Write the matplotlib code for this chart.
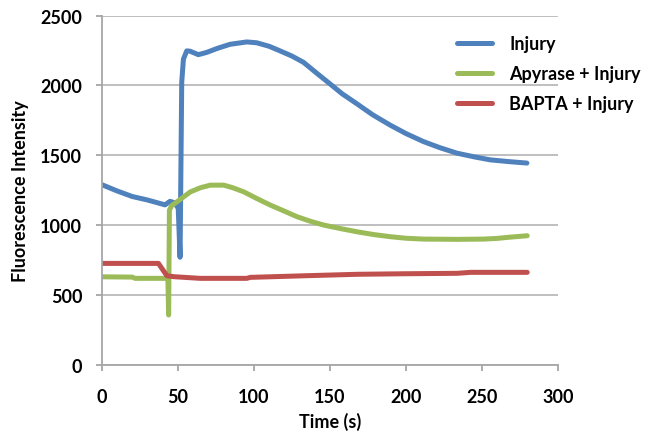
import matplotlib
matplotlib.use("Agg")
import matplotlib.pyplot as plt

# ---- data ----
t_injury = [0, 10, 20, 30, 41.6, 44.9, 48, 50.3, 51.5, 52.6, 53.7, 55.9, 58, 63.5, 69, 76,
            84.3, 95.3, 101.9, 110, 117.2, 125, 132.6, 141, 150, 158, 167.6, 178, 189.5,
            200, 211.4, 222, 233.4, 245, 255.3, 267, 279.4]
v_injury = [1290, 1245, 1205, 1180, 1145, 1170, 1160, 1120, 770, 2023, 2188, 2247, 2245,
            2220, 2236, 2265, 2294, 2311, 2305, 2280, 2247, 2210, 2165, 2090, 2011, 1940,
            1869, 1790, 1716, 1655, 1598, 1555, 1515, 1488, 1467, 1455, 1444]

t_apyrase = [0, 20, 22, 41.6, 43.5, 44.0, 44.5, 46, 49.5, 58.3, 65, 71.4, 80.2, 86, 93.4,
             102, 110.9, 120, 128.4, 137, 146, 157, 167.9, 179, 189.8, 200, 211.7, 233.6,
             251, 260, 266.4, 279.6]
v_apyrase = [630, 628, 619, 619, 615, 357, 1107, 1140, 1167, 1238, 1268, 1286, 1286, 1268,
             1238, 1190, 1143, 1100, 1060, 1028, 1000, 975, 952, 932, 917, 906, 900, 898,
             900, 905, 912, 924]

t_bapta = [0, 37.3, 42.8, 47.2, 64.7, 95.4, 97.6, 134.9, 167.8, 200, 233.6, 242.4, 279.6]
v_bapta = [726, 726, 638, 631, 619, 619, 626, 638, 648, 652, 655, 662, 662]

labels = ["Injury", "Apyrase + Injury", "BAPTA + Injury"]
x_ticks = [0, 50, 100, 150, 200, 250, 300]
y_ticks = [0, 500, 1000, 1500, 2000, 2500]

colors = ["#4F81BD", "#9BBB59", "#C0504D"]

plt.rcParams['font.family'] = ['Lato', 'DejaVu Sans']

fig = plt.figure(figsize=(6.56, 4.35), dpi=100)
ax = fig.add_axes([0.155, 0.159, 0.696, 0.803])

for t, v, c, lab in zip([t_injury, t_apyrase, t_bapta],
                        [v_injury, v_apyrase, v_bapta], colors, labels):
    ax.plot(t, v, color=c, lw=3.6, label=lab, solid_capstyle='round', solid_joinstyle='round')

ax.set_xlim(0, 300)
ax.set_ylim(0, 2500)
ax.set_xticks(x_ticks)
ax.set_yticks(y_ticks)
ax.set_xticklabels([str(x) for x in x_ticks], fontweight='bold', fontsize=13)
ax.set_yticklabels([str(y) for y in y_ticks], fontweight='bold', fontsize=13)

ax.grid(axis='y', color='#BFBFBF', lw=1.4)
ax.set_axisbelow(True)
for s in ['top', 'right']:
    ax.spines[s].set_visible(False)
for s in ['left', 'bottom']:
    ax.spines[s].set_color('#A6A6A6')
    ax.spines[s].set_linewidth(1.3)
ax.tick_params(direction='out', length=4, color='#A6A6A6', width=1.3)
ax.tick_params(axis='y', pad=10)
ax.tick_params(axis='x', pad=13)

ax.set_xlabel("Time (s)", fontsize=13, fontweight='bold', labelpad=5)
ax.set_ylabel("Fluorescence Intensity", fontsize=13, fontweight='bold', labelpad=8)

leg = fig.legend(loc='upper left', bbox_to_anchor=(457/656, 1 - 36/435),
                 bbox_transform=fig.transFigure, frameon=False, borderpad=0,
                 borderaxespad=0, handlelength=1.95, handletextpad=0.95,
                 labelspacing=0.72, prop={'weight': 'bold', 'size': 13})

fig.savefig("out.png", dpi=100)
